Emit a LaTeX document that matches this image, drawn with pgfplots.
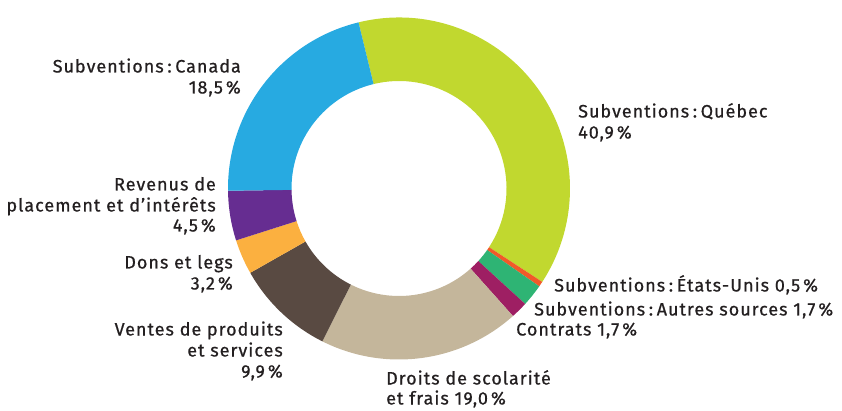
\documentclass[border=0pt]{standalone}
\usepackage{pgfplots}
\pgfplotsset{compat=1.18}
\usepackage{fontspec}
\setmainfont{Fira Sans}[LetterSpace=5.5, FakeBold=0.6]
\definecolor{cQue}{RGB}{193,216,47}
\definecolor{cCan}{RGB}{39,170,225}
\definecolor{cRev}{RGB}{102,45,145}
\definecolor{cDon}{RGB}{251,176,64}
\definecolor{cVen}{RGB}{89,74,66}
\definecolor{cDro}{RGB}{196,182,155}
\definecolor{cCon}{RGB}{158,31,99}
\definecolor{cAut}{RGB}{46,180,116}
\definecolor{cEU}{RGB}{241,90,41}
\definecolor{txt}{RGB}{35,31,32}
\newcommand\cl{\hspace{0.2em}:\hspace{0.2em}}
\tikzset{lbl/.style={font=\fontsize{18}{21}\selectfont, text=txt, inner sep=0pt}}
\begin{document}
\begin{tikzpicture}
\begin{axis}[hide axis, x=1pt, y=1pt, xmin=0, xmax=842, ymin=0, ymax=407,
  y dir=reverse, clip=false]
\path (axis cs:0,0) rectangle (axis cs:842,407);
\pgfplotsextra{
  \xdef\angA{103.7}
  % shares (percent of the ring) in clockwise order from the top
  \foreach \v/\c in {38.0/cQue, 0.5/cEU, 2.1/cAut, 1.6/cCon, 19.0/cDro, 9.4/cVen, 3.3/cDon, 4.7/cRev, 21.4/cCan} {
    \pgfmathsetmacro\angB{\angA-3.6*\v}
    \fill[\c] (axis cs:399,185) ++(\angA:171pt) arc[start angle=\angA, end angle=\angB, radius=171pt]
      -- ++(\angB:-63.5pt) arc[start angle=\angB, end angle=\angA, radius=107.5pt] -- cycle;
    \xdef\angA{\angB}
  }
}
% labels
\node[lbl, anchor=base east] at (axis cs:241,69) {Subventions\cl Canada};
\node[lbl, anchor=base east] at (axis cs:241,90) {18,5\,\%};
\node[lbl, anchor=base west] at (axis cs:578,114) {Subventions\cl Québec};
\node[lbl, anchor=base west] at (axis cs:578,135) {40,9\,\%};
\node[lbl, anchor=base east] at (axis cs:216,187) {Revenus de};
\node[lbl, anchor=base east] at (axis cs:216,208) {placement et d’intérêts};
\node[lbl, anchor=base east] at (axis cs:216,228) {4,5\,\%};
\node[lbl, anchor=base east] at (axis cs:233,265) {Dons et legs};
\node[lbl, anchor=base east] at (axis cs:233,286) {3,2\,\%};
\node[lbl, anchor=base east] at (axis cs:283,332) {Ventes de produits};
\node[lbl, anchor=base east] at (axis cs:283,353) {et services};
\node[lbl, anchor=base east] at (axis cs:283,374) {9,9\,\%};
\node[lbl, anchor=base west] at (axis cs:386,381) {Droits de scolarité};
\node[lbl, anchor=base west] at (axis cs:386,401) {et frais 19,0\,\%};
\node[lbl, anchor=base west] at (axis cs:554,288) {Subventions\cl États-Unis 0,5\,\%};
\node[lbl, anchor=base west] at (axis cs:534,312) {Subventions\cl Autres sources 1,7\,\%};
\node[lbl, anchor=base west] at (axis cs:516,332) {Contrats 1,7\,\%};
\end{axis}
\end{tikzpicture}
\end{document}
